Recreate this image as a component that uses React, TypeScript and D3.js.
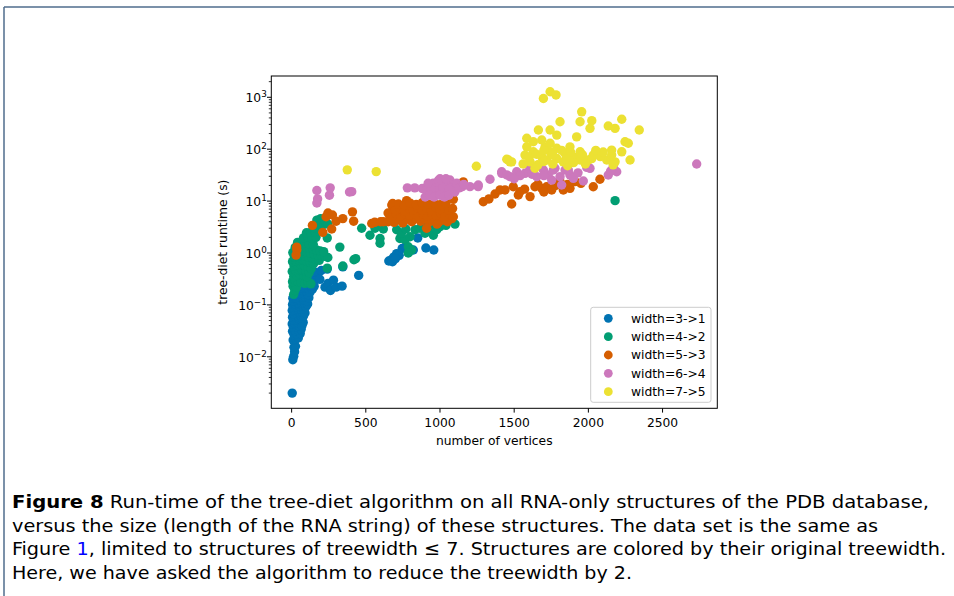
import React from "react";
import * as d3 from "d3";

type P = [number, number];

const SERIES_LABELS = ["width=3->1", "width=4->2", "width=5->3", "width=6->4", "width=7->5"];
const SERIES_COLORS = ["#0173b2", "#029e73", "#d55e00", "#cc78bc", "#ece133"];
const X_TICKS = [0, 500, 1000, 1500, 2000, 2500];
const Y_TICK_EXPS = [-2, -1, 0, 1, 2, 3];
const X_LABEL = "number of vertices";
const Y_LABEL = "tree-diet runtime (s)";

const blue: P[] = [
  [4, 0.002],
  [8, 0.0088], [14, 0.0102], [20, 0.0125], [16, 0.0152], [26, 0.016],
  [10, 0.021], [28, 0.022], [45, 0.023], [18, 0.026], [38, 0.027], [58, 0.028],
  [6, 0.031], [24, 0.032], [44, 0.033], [64, 0.034], [12, 0.037], [32, 0.038], [52, 0.039], [70, 0.04],
  [4, 0.043], [22, 0.044], [40, 0.046], [60, 0.047], [78, 0.046], [14, 0.051], [32, 0.052], [50, 0.054], [68, 0.055],
  [6, 0.058], [24, 0.06], [42, 0.062], [60, 0.063], [80, 0.061], [14, 0.068], [34, 0.07], [52, 0.072], [72, 0.073], [90, 0.07],
  [4, 0.078], [22, 0.08], [42, 0.082], [62, 0.084], [84, 0.082], [12, 0.09], [32, 0.093], [52, 0.095], [74, 0.096], [96, 0.092],
  [6, 0.102], [24, 0.105], [44, 0.108], [66, 0.11], [88, 0.108], [108, 0.104], [14, 0.118], [36, 0.122], [58, 0.125], [80, 0.126], [102, 0.12],
  [8, 0.135], [28, 0.138], [50, 0.142], [72, 0.145], [95, 0.14], [116, 0.138], [18, 0.155], [40, 0.16], [62, 0.165], [86, 0.162], [110, 0.158],
  [30, 0.178], [54, 0.184], [78, 0.188], [100, 0.182], [124, 0.176], [44, 0.205], [68, 0.21], [92, 0.215], [116, 0.205], [140, 0.2],
  [58, 0.235], [82, 0.24], [106, 0.245], [130, 0.235], [152, 0.23], [72, 0.27], [98, 0.275], [122, 0.28], [146, 0.27],
  [90, 0.31], [115, 0.32], [140, 0.33], [165, 0.34], [130, 0.37], [155, 0.39], [180, 0.41], [150, 0.44], [200, 0.46],
  [190, 0.31], [225, 0.22], [245, 0.26], [262, 0.19], [282, 0.3], [300, 0.22], [340, 0.23], [240, 0.49], [345, 0.54], [452, 0.37],
  [655, 0.7], [672, 0.74], [690, 0.84], [708, 0.97], [725, 0.9], [745, 1.22], [765, 1.3], [800, 1.15], [820, 1.14],
  [850, 1.95], [905, 1.25], [958, 1.14], [680, 0.68], [700, 0.78],
];

const green: P[] = [
  [14, 0.16], [22, 0.19], [10, 0.23], [32, 0.22], [6, 0.28], [24, 0.3], [44, 0.28], [64, 0.27], [88, 0.26], [112, 0.27], [130, 0.255],
  [14, 0.35], [36, 0.37], [58, 0.39], [82, 0.37], [104, 0.35], [4, 0.44], [26, 0.46], [48, 0.48], [72, 0.47], [96, 0.45], [118, 0.42],
  [16, 0.56], [38, 0.58], [62, 0.6], [86, 0.58], [110, 0.55], [132, 0.5], [6, 0.68], [28, 0.7], [52, 0.72], [76, 0.74], [100, 0.7], [124, 0.66], [148, 0.62],
  [18, 0.84], [42, 0.87], [66, 0.9], [90, 0.88], [114, 0.84], [138, 0.8], [162, 0.76], [186, 0.72],
  [8, 1.02], [32, 1.06], [56, 1.1], [80, 1.08], [104, 1.04], [128, 1.0], [152, 0.96], [176, 0.92], [200, 0.9], [226, 0.86], [244, 0.82],
  [24, 1.28], [48, 1.33], [72, 1.36], [96, 1.3], [120, 1.25], [144, 1.2], [168, 1.15], [192, 1.1], [216, 1.06],
  [40, 1.6], [66, 1.65], [92, 1.55], [118, 1.5], [146, 1.45], [80, 1.95], [108, 2.05], [136, 1.9], [164, 2.0],
  [100, 2.45], [128, 2.5], [158, 2.6], [188, 2.8],
  [150, 3.1], [176, 3.4], [204, 3.3], [170, 4.3], [196, 4.6], [226, 4.2], [245, 3.6], [240, 1.95],
  [240, 0.51], [325, 1.3], [345, 0.56], [420, 0.74], [432, 0.78], [472, 3.0], [528, 2.2], [562, 3.0], [585, 3.5],
  [596, 1.9], [596, 1.54], [618, 2.9], [708, 2.8], [730, 1.9], [764, 1.8], [798, 2.06], [786, 1.32], [809, 1.14],
  [832, 2.8], [865, 3.0], [899, 2.4], [955, 2.2], [978, 2.8], [1000, 3.2], [944, 3.5], [1101, 3.6], [786, 1.0],
  [740, 2.4], [770, 2.9], [880, 3.3], [920, 2.7], [1040, 3.4],
  [2180, 10.2],
];

const orange: P[] = [
  [30, 0.91], [35, 1.15], [34, 1.3], [140, 3.4], [210, 2.5], [270, 2.9], [245, 5.9], [275, 5.4], [300, 4.1], [345, 4.6],
  [410, 6.2], [418, 4.1], [232, 5.0],
  [540, 3.7], [560, 3.9], [600, 4.0], [618, 4.0], [650, 4.0], [675, 8.4], [685, 7.3], [715, 6.2], [650, 5.9], [681, 9.0], [775, 10.2],
  [660, 4.4], [690, 3.9], [720, 4.3], [750, 3.8], [780, 4.5], [810, 4.0], [840, 4.6], [870, 4.1], [900, 4.5], [930, 4.0],
  [960, 4.4], [990, 3.9], [1020, 4.3], [1050, 4.0], [1080, 4.6],
  [680, 5.2], [705, 5.6], [735, 5.1], [765, 5.7], [795, 5.3], [825, 5.8], [855, 5.2], [885, 5.6], [915, 5.1], [945, 5.7],
  [975, 5.3], [1005, 5.8], [1035, 5.2], [1065, 5.6], [1090, 5.0],
  [700, 6.6], [730, 7.2], [760, 6.5], [790, 7.4], [820, 6.8], [850, 7.5], [880, 6.7], [910, 7.3], [940, 6.6], [970, 7.6],
  [1000, 6.9], [1030, 7.4], [1060, 6.7], [1085, 7.2],
  [720, 8.8], [760, 8.4], [800, 9.1], [840, 8.6], [880, 9.3], [920, 8.7], [960, 9.2], [1000, 8.5], [1040, 9.0], [1090, 10.8],
  [910, 3.0], [1157, 23.4], [980, 3.6],
  [1292, 9.7], [1371, 13.7], [1405, 16.4], [1438, 16.4], [1483, 8.8], [1494, 18.9], [1528, 13.1], [1539, 15.2], [1607, 12.2],
  [1640, 18.9], [1686, 17.6], [1719, 18.9], [1753, 16.4], [1809, 23.7], [1831, 16.4], [1876, 17.6], [1910, 23.7], [2033, 18.9],
  [2078, 26.3], [1330, 11], [1570, 17], [1660, 21], [1700, 15], [1780, 20], [1860, 21], [1950, 22],
];

const pink: P[] = [
  [170, 16], [255, 13], [260, 18], [170, 9.2], [175, 11], [390, 15], [405, 15.2],
  [780, 18], [830, 18], [880, 17.5], [910, 16.4], [930, 19], [955, 22], [955, 14.1], [980, 20], [1000, 16.4], [1022, 23.7],
  [1045, 14.1], [1050, 20], [1067, 25.5], [1080, 18], [1100, 21], [1113, 22], [1150, 19], [1202, 19], [1257, 19], [1258, 20.4],
  [990, 25], [940, 17], [1020, 18], [1060, 17], [900, 12], [930, 13], [960, 12], [1000, 13], [1030, 12], [1060, 13],
  [1100, 15], [1130, 18], [1160, 21], [920, 22], [1000, 27], [1040, 27],
  [1337, 26.3], [1416, 36.8], [1416, 34.3], [1472, 29.6], [1517, 36.8], [1573, 34.3], [1607, 42.8], [1652, 29.6], [1697, 39.8],
  [1730, 31.8], [1775, 42.8], [1809, 29.6], [1843, 39.8], [1876, 31.8], [1966, 24.4], [1989, 44.6], [2134, 31.8], [1753, 25.4],
  [1820, 20.4], [1899, 27.4], [1764, 39.8], [1865, 39.8], [2011, 42.8], [2191, 36.8], [2168, 44.6], [2150, 38], [1540, 31],
  [1620, 33], [1700, 31], [1930, 35], [1450, 32], [1500, 27],
  [2730, 51.9],
];

const yellow: P[] = [
  [375, 40], [570, 37], [1245, 47], [1450, 64], [1472, 57], [1461, 62], [1483, 57],
  [1573, 77], [1629, 89], [1686, 71], [1742, 89], [1787, 66], [1843, 83], [1899, 71], [1944, 89], [2000, 62], [2033, 77],
  [1607, 57], [1719, 62], [1831, 57], [1944, 62], [1640, 43], [1787, 104], [1876, 111], [1708, 111], [1585, 111], [1742, 130],
  [1921, 173], [1787, 187], [1686, 150], [1742, 234], [1663, 234], [1585, 162], [1629, 139], [1809, 337], [1944, 337],
  [2023, 355], [2011, 252], [1955, 525], [1697, 946], [1742, 1280], [1782, 1110],
  [2134, 280], [2180, 252], [2225, 378], [2343, 234], [2247, 139], [2269, 130], [2157, 96], [2225, 89], [2281, 62], [2124, 62],
  [2180, 57], [2023, 66], [2157, 77], [2167, 50], [2080, 72], [2100, 88], [1560, 52], [1660, 50], [1760, 52], [1860, 48],
  [1980, 52], [1600, 70], [1650, 80], [1700, 95], [1760, 78], [1820, 95], [1880, 88], [1960, 78], [2050, 95], [1700, 58],
  [1850, 64], [1900, 55],
];

const SERIES = [blue, green, orange, pink, yellow];

const W = 954;
const H = 596;
const AX = { left: 271.3, right: 717.3, top: 76, bottom: 408.3 };

export default function App() {
  const x = d3.scaleLinear().domain([-137, 2869]).range([AX.left, AX.right]);
  const y = d3.scaleLog().domain([Math.pow(10, -2.992), Math.pow(10, 3.41)]).range([AX.bottom, AX.top]);

  const minor: number[] = [];
  for (let e = -3; e <= 3; e++) {
    for (let m = 2; m <= 9; m++) {
      const v = m * Math.pow(10, e);
      if (v >= y.domain()[0] && v <= y.domain()[1]) minor.push(v);
    }
  }

  const tickFont = "DejaVu Sans, sans-serif";
  const fs = 12.3;
  const r = 4.7;

  const legendX = 590.7;
  const legendY = 307.3;
  const legendW = 120.3;
  const legendH = 95;

  const captionFont = "'DejaVu Sans Condensed', 'Liberation Sans Narrow', 'Liberation Sans', sans-serif";

  return (
    <svg
      width={W}
      height={H}
      style={{ position: "absolute", left: 0, top: 0, background: "#fff" }}
      fontFamily={tickFont}
    >
      <rect x={0} y={0} width={W} height={H} fill="#fff" />
      <line x1={4} y1={7} x2={W} y2={7} stroke="#4f6d8c" strokeWidth={1.5} />
      <line x1={4} y1={7} x2={4} y2={H} stroke="#4f6d8c" strokeWidth={1.5} />

      <rect x={AX.left} y={AX.top} width={AX.right - AX.left} height={AX.bottom - AX.top} fill="#fff" />

      <defs>
        <clipPath id="plotclip">
          <rect x={AX.left} y={AX.top} width={AX.right - AX.left} height={AX.bottom - AX.top} />
        </clipPath>
      </defs>

      <g clipPath="url(#plotclip)">
        {SERIES.map((pts, si) => (
          <g key={si} fill={SERIES_COLORS[si]}>
            {pts.map((p, i) => (
              <circle key={i} cx={x(p[0])} cy={y(p[1])} r={r} />
            ))}
          </g>
        ))}
      </g>

      <rect
        x={AX.left}
        y={AX.top}
        width={AX.right - AX.left}
        height={AX.bottom - AX.top}
        fill="none"
        stroke="#000"
        strokeWidth={1}
      />

      {X_TICKS.map((t) => (
        <g key={t}>
          <line x1={x(t)} x2={x(t)} y1={AX.bottom} y2={AX.bottom + 4.3} stroke="#000" strokeWidth={1} />
          <text x={x(t)} y={427.3} textAnchor="middle" fontSize={fs} fill="#000">
            {t}
          </text>
        </g>
      ))}

      {minor.map((v, i) => (
        <line key={i} x1={AX.left - 2.5} x2={AX.left} y1={y(v)} y2={y(v)} stroke="#000" strokeWidth={0.8} />
      ))}
      {Y_TICK_EXPS.map((e) => {
        const yy = y(Math.pow(10, e));
        return (
          <g key={e}>
            <line x1={AX.left - 4.3} x2={AX.left} y1={yy} y2={yy} stroke="#000" strokeWidth={1} />
            <text x={266.8} y={yy + 5} textAnchor="end" fontSize={fs} fill="#000">
              10
              <tspan dy={-5.2} fontSize={8.8}>
                {e < 0 ? `\u2212${-e}` : `${e}`}
              </tspan>
            </text>
          </g>
        );
      })}

      <text x={(AX.left + AX.right) / 2} y={444.5} textAnchor="middle" fontSize={fs} fill="#000">
        {X_LABEL}
      </text>
      <text
        transform={`translate(${226.5},${(AX.top + AX.bottom) / 2}) rotate(-90)`}
        textAnchor="middle"
        fontSize={fs}
        fill="#000"
      >
        {Y_LABEL}
      </text>

      <rect
        x={legendX}
        y={legendY}
        width={legendW}
        height={legendH}
        rx={2.5}
        fill="#fff"
        fillOpacity={0.8}
        stroke="#cccccc"
        strokeWidth={1}
      />
      {SERIES_LABELS.map((lab, i) => {
        const cy = 318.3 + i * 18.35;
        return (
          <g key={lab}>
            <circle cx={608.3} cy={cy} r={4.4} fill={SERIES_COLORS[i]} />
            <text x={631} y={cy + 4.4} fontSize={fs} fill="#000">
              {lab}
            </text>
          </g>
        );
      })}

      <g fontFamily={captionFont} fontSize={18.5} fill="#000">
        <text x={12} y={508} textLength={917} lengthAdjust="spacingAndGlyphs">
          <tspan fontWeight="bold">Figure 8</tspan>
          <tspan>{"  Run-time of the tree-diet algorithm on all RNA-only structures of the PDB database,"}</tspan>
        </text>
        <text x={12} y={531.5} textLength={866} lengthAdjust="spacingAndGlyphs">
          versus the size (length of the RNA string) of these structures. The data set is the same as
        </text>
        <text x={12} y={555} textLength={934} lengthAdjust="spacingAndGlyphs">
          <tspan>Figure </tspan>
          <tspan fill="#0000ff">1</tspan>
          <tspan>, limited to structures of treewidth ≤ 7. Structures are colored by their original treewidth.</tspan>
        </text>
        <text x={12} y={578.5} textLength={620} lengthAdjust="spacingAndGlyphs">
          Here, we have asked the algorithm to reduce the treewidth by 2.
        </text>
      </g>
    </svg>
  );
}
